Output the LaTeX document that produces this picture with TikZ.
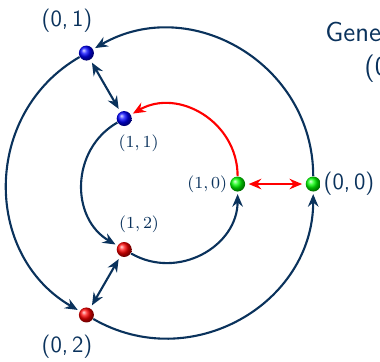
\documentclass[tikz,border=0pt]{standalone}
\usepackage{tikz}
\usetikzlibrary{arrows.meta,positioning,shadings}

\definecolor{navy}{RGB}{10,50,92}

\begin{document}
\begin{tikzpicture}[
  >={Stealth[length=6pt,width=5pt,inset=2pt]},
  ballnode/.style={circle,inner sep=0pt,minimum size=2.5mm,shading=ball,ball color=#1},
  biglab/.style={text=navy,font=\fontsize{11}{13}\sffamily\selectfont,inner sep=1pt},
  smalllab/.style={text=navy,font=\fontsize{8}{9.5}\selectfont,inner sep=1pt},
  titlelab/.style={text=navy,font=\fontsize{13}{15.5}\sffamily\selectfont,anchor=base west,inner sep=0pt},
  navyline/.style={draw=navy,line width=1pt},
  redline/.style={draw=red,line width=1pt},
  arcto/.style={bend right=60,looseness=1.13}
]
\useasboundingbox (-2.7,-2.95) rectangle (3.633,3.067);

% outer ring
\node[ballnode=green] (o0) at (0:2.52) {};
\node[ballnode=blue]  (o1) at (120:2.52) {};
\node[ballnode=red]   (o2) at (240:2.52) {};
% inner ring
\node[ballnode=green] (i0) at (0:1.26) {};
\node[ballnode=blue]  (i1) at (120:1.26) {};
\node[ballnode=red]   (i2) at (240:1.26) {};

\node[biglab,anchor=west] (lo0) at (o0.east) {(0,\,0)};
\node[biglab] (lo1) at (-1.583,2.717) {(0,\,1)};
\node[biglab] (lo2) at (-1.583,-2.717) {(0,\,2)};
\node[smalllab,anchor=east] (li0) at (i0.west) {$(1,0)$};
\node[smalllab] (li1) at (-0.39,0.683) {$(1,1)$};
\node[smalllab] (li2) at (-0.383,-0.667) {$(1,2)$};

\node[titlelab] (gen) at (2.717,2.372) {Gene};
\node[titlelab] (gen2) at (3.367,1.817) {(0};

\draw[navyline,->,shorten >=1pt] (o0) to[arcto] (o1);
\draw[navyline,->,shorten >=1pt] (o1) to[arcto] (o2);
\draw[navyline,->,shorten >=1pt] (o2) to[arcto] (o0);

\draw[redline,->,shorten >=1pt] (i0) to[arcto] (i1);
\draw[navyline,->,shorten >=1pt] (i1) to[arcto] (i2);
\draw[navyline,->,shorten >=1pt] (i2) to[arcto] (i0);

\draw[navyline,<->,shorten >=1.5pt,shorten <=1.5pt] (o1) -- (i1);
\draw[navyline,<->,shorten >=1.5pt,shorten <=1.5pt] (o2) -- (i2);
\draw[redline,<->,shorten >=1.5pt,shorten <=1.5pt] (i0) -- (o0);

\end{tikzpicture}
\end{document}
